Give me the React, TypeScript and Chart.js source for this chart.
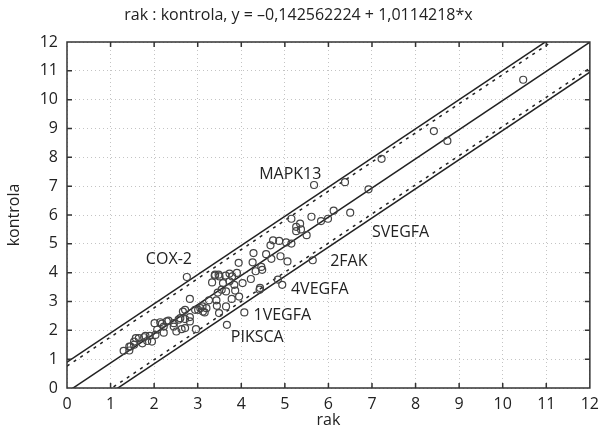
import React, { useEffect, useRef } from "react";
import { Chart, registerables } from "chart.js";

Chart.register(...registerables);

const FONT_FAMILY = '"Open Sans", "DejaVu Sans", sans-serif';
const TEXT_COLOR = "#222";

const chartTitle = "rak : kontrola, y = \u20130,142562224 + 1,0114218*x";
const xAxisTitle = "rak";
const yAxisTitle = "kontrola";

const rak = [
  1.30, 1.43, 1.46, 1.54, 1.54, 1.65, 1.73, 1.77, 1.84, 1.90, 1.95, 2.03, 2.07, 2.01, 2.14,
  2.22, 2.29, 2.22, 2.45, 2.51, 2.63, 2.71, 2.60, 2.71, 2.82, 2.82, 2.66, 2.71, 2.82, 2.94,
  3.06, 3.12, 2.96, 2.45, 2.56, 2.33, 2.18, 1.80, 1.58, 1.43,
  2.75, 3.01, 3.11, 3.20, 3.16, 3.49, 3.44, 3.65, 3.26, 3.43, 3.46, 3.55, 3.65, 3.86, 3.95,
  3.78, 4.42, 3.33, 3.58, 3.73, 3.84, 4.03, 4.22, 3.39, 3.50, 3.64, 3.73, 3.79, 3.90, 3.94,
  3.40, 3.48, 4.07, 3.67, 4.26, 4.33, 4.48, 4.46, 4.28, 4.57, 4.69, 4.90, 5.06, 4.67, 4.73,
  4.87, 5.03, 5.15, 4.43, 4.84, 4.94, 5.64,
  5.15, 5.26, 5.26, 5.37, 5.35, 5.50, 5.61, 5.83, 5.99, 6.12, 5.67, 6.38, 6.50, 6.92, 7.22,
  8.42, 8.73, 10.47,
];

const kontrola = [
  1.29, 1.30, 1.44, 1.61, 1.50, 1.73, 1.55, 1.76, 1.63, 1.81, 1.61, 1.84, 2.02, 2.25, 2.28,
  2.13, 2.31, 1.92, 2.13, 1.96, 2.04, 2.08, 2.42, 2.39, 2.46, 2.31, 2.65, 2.71, 3.09, 2.71,
  2.77, 2.65, 2.04, 2.25, 2.37, 2.34, 2.23, 1.81, 1.73, 1.44,
  3.85, 2.71, 2.83, 2.77, 2.62, 2.60, 2.85, 2.83, 3.04, 3.04, 3.31, 3.41, 3.35, 3.38, 3.17,
  3.09, 3.41, 3.66, 3.64, 3.70, 3.58, 3.64, 3.78, 3.90, 3.87, 3.90, 3.97, 3.87, 3.99, 4.34,
  3.93, 3.93, 2.62, 2.19, 4.36, 4.05, 4.10, 4.20, 4.68, 4.64, 4.48, 4.57, 4.39, 4.95, 5.12,
  5.10, 5.05, 5.01, 3.47, 3.76, 3.58, 4.43,
  5.87, 5.59, 5.44, 5.50, 5.70, 5.30, 5.94, 5.79, 5.87, 6.15, 7.04, 7.14, 6.08, 6.89, 7.95,
  8.91, 8.57, 10.69,
];

const regressionIntercept = -0.142562224;
const regressionSlope = 1.0114218;
const outerBandOffset = 1.04;
const innerBandOffset = 0.9;

const axisMin = 0;
const axisMax = 12;
const tickValues = [0, 1, 2, 3, 4, 5, 6, 7, 8, 9, 10, 11, 12];

const geneLabels = ["MAPK13", "COX-2", "SVEGFA", "2FAK", "4VEGFA", "1VEGFA", "PIKSCA"];
const geneLabelX = [4.41, 1.81, 7.0, 6.04, 5.14, 4.28, 3.76];
const geneLabelY = [7.41, 4.45, 5.39, 4.38, 3.41, 2.5, 1.74];

function lineThrough(offset: number) {
  return [axisMin, axisMax].map((xv) => ({
    x: xv,
    y: regressionIntercept + offset + regressionSlope * xv,
  }));
}

const framePlugin = {
  id: "frameAndLabels",
  afterDatasetsDraw(chart: any) {
    const { ctx, chartArea } = chart;
    const { left, right, top, bottom } = chartArea;
    const xs = chart.scales.x;
    const ys = chart.scales.y;
    ctx.save();
    ctx.font = `16px ${FONT_FAMILY}`;
    ctx.fillStyle = TEXT_COLOR;
    ctx.textAlign = "left";
    ctx.textBaseline = "middle";
    geneLabels.forEach((t, i) => {
      ctx.fillText(t, xs.getPixelForValue(geneLabelX[i]), ys.getPixelForValue(geneLabelY[i]));
    });
    ctx.strokeStyle = "#333";
    ctx.lineWidth = 1.5;
    ctx.strokeRect(left, top, right - left, bottom - top);
    const len = 5;
    ctx.beginPath();
    tickValues.slice(1, -1).forEach((v) => {
      const px = xs.getPixelForValue(v);
      ctx.moveTo(px, bottom);
      ctx.lineTo(px, bottom - len);
      ctx.moveTo(px, top);
      ctx.lineTo(px, top + len);
      const py = ys.getPixelForValue(v);
      ctx.moveTo(left, py);
      ctx.lineTo(left + len, py);
      ctx.moveTo(right, py);
      ctx.lineTo(right - len, py);
    });
    ctx.stroke();
    ctx.restore();
  },
};

export default function App() {
  const canvasRef = useRef<HTMLCanvasElement | null>(null);

  useEffect(() => {
    if (!canvasRef.current) return;
    const lineStyle = {
      showLine: true,
      pointRadius: 0,
      pointHoverRadius: 0,
      borderColor: "#222",
      borderWidth: 1.5,
      fill: false,
    };
    const chart = new Chart(canvasRef.current, {
      type: "scatter",
      data: {
        datasets: [
          {
            label: "points",
            data: rak.map((xv, i) => ({ x: xv, y: kontrola[i] })),
            pointRadius: 3.5,
            pointBorderWidth: 1.2,
            borderColor: "#444",
            backgroundColor: "rgba(0,0,0,0)",
            pointStyle: "circle",
          },
          { label: "regression", data: lineThrough(0), ...lineStyle },
          { label: "upper", data: lineThrough(outerBandOffset), ...lineStyle },
          { label: "lower", data: lineThrough(-outerBandOffset), ...lineStyle },
          { label: "upperInner", data: lineThrough(innerBandOffset), ...lineStyle, borderDash: [3, 5] },
          { label: "lowerInner", data: lineThrough(-innerBandOffset), ...lineStyle, borderDash: [3, 5] },
        ] as any,
      },
      options: {
        animation: false,
        responsive: true,
        maintainAspectRatio: false,
        layout: { padding: { left: 0, right: 9, top: 0, bottom: 0 } },
        plugins: {
          legend: { display: false },
          tooltip: { enabled: false },
          title: {
            display: true,
            text: chartTitle,
            color: TEXT_COLOR,
            font: { family: FONT_FAMILY, size: 16, weight: "normal" },
            padding: { top: 6, bottom: 16.8 },
          },
        },
        scales: {
          x: {
            type: "linear",
            min: axisMin,
            max: axisMax,
            afterFit: (s: any) => {
              s.height = 41;
            },
            afterBuildTicks: (s: any) => {
              s.ticks = tickValues.map((v) => ({ value: v }));
            },
            ticks: {
              color: TEXT_COLOR,
              font: { family: FONT_FAMILY, size: 16 },
              padding: 7,
              maxRotation: 0,
            },
            grid: { color: "#c4c4c4", lineWidth: 1, drawTicks: false },
            border: { display: false, dash: [1, 3] },
            title: {
              display: true,
              text: xAxisTitle,
              color: TEXT_COLOR,
              font: { family: FONT_FAMILY, size: 16 },
              padding: { top: 0, bottom: -1 },
            },
          },
          y: {
            type: "linear",
            min: axisMin,
            max: axisMax,
            afterFit: (s: any) => {
              s.width = 67;
            },
            afterBuildTicks: (s: any) => {
              s.ticks = tickValues.map((v) => ({ value: v }));
            },
            ticks: {
              color: TEXT_COLOR,
              font: { family: FONT_FAMILY, size: 16 },
              padding: 9,
            },
            grid: { color: "#c4c4c4", lineWidth: 1, drawTicks: false },
            border: { display: false, dash: [1, 3] },
            title: {
              display: true,
              text: yAxisTitle,
              color: TEXT_COLOR,
              font: { family: FONT_FAMILY, size: 16 },
              padding: { top: 4.5, bottom: 0 },
            },
          },
        },
      },
      plugins: [framePlugin],
    } as any);
    return () => chart.destroy();
  }, []);

  return (
    <div style={{ position: "absolute", left: 0, top: 0, width: 606, height: 429 }}>
      <canvas ref={canvasRef} />
    </div>
  );
}
